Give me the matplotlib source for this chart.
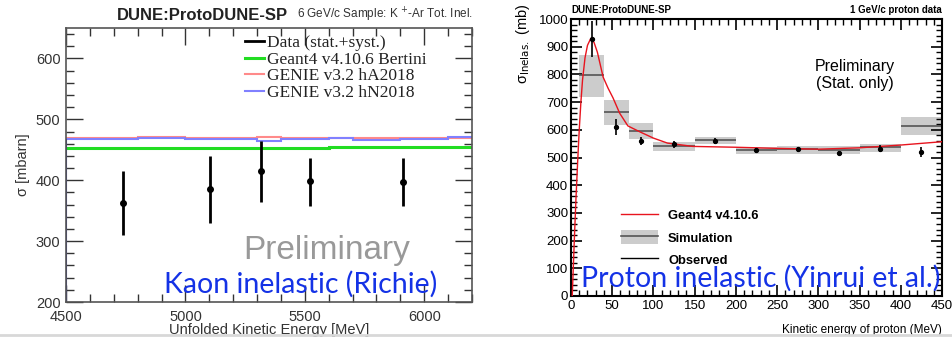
import numpy as np
import matplotlib
matplotlib.use("Agg")
import matplotlib.pyplot as plt
from matplotlib.patches import Patch
from matplotlib.lines import Line2D
from matplotlib.ticker import MultipleLocator

plt.rcParams['font.family'] = ['Liberation Sans', 'DejaVu Sans']

# ---------------- Left panel data (Kaon) ----------------
kaon_e = [4740, 5105, 5315, 5520, 5910]
kaon_xs = [363, 385, 415, 398, 397]
kaon_lo = [310, 330, 365, 358, 358]
kaon_hi = [415, 440, 465, 437, 437]

hist_edges = [4500, 4600, 4700, 4800, 4900, 5000, 5100, 5200, 5300, 5400,
              5500, 5600, 5700, 5800, 5900, 6000, 6100, 6200]
geant_bertini = [452.5, 452.5, 452.5, 452.5, 452.5, 452.5, 452.5, 452.5, 452.5,
                 452.5, 452.5, 454, 454, 454, 454, 454, 454]
genie_ha = [470, 469, 470, 471.5, 471, 470, 470, 470, 471.5, 469, 470, 469,
            470, 469.5, 470, 470, 470]
genie_hn = [467, 467, 468, 470, 469.5, 467, 467, 467, 464, 467, 468, 469,
            466, 466, 467, 467, 471.5]

# ---------------- Right panel data (Proton) ----------------
sim_edges = [10, 40, 70, 100, 150, 200, 250, 300, 350, 400, 450]
sim_val = [798, 664, 596, 542, 563, 527, 531, 527, 538, 614]
sim_lo = [718, 617, 567, 523, 549, 513, 513, 513, 520, 581]
sim_hi = [870, 708, 624, 556, 574, 538, 542, 540, 549, 646]

obs_e = [25, 55, 85, 125, 175, 225, 275, 325, 375, 425]
obs_xs = [928, 610, 560, 547, 560, 526, 530, 516, 532, 520]
obs_err = [66, 29, 15, 12, 11, 9, 9, 8, 12, 17]

g4_e = [1.5, 4, 6, 8, 10, 12, 14, 17, 20, 24, 28, 32, 39, 45, 51, 59, 69,
        84, 100, 117, 148, 200, 250, 300, 350, 400, 450]
g4_xs = [0, 200, 350, 480, 600, 700, 780, 860, 905, 930, 915, 880, 790, 750,
         715, 660, 614, 592, 570, 552, 540, 537, 533, 530, 535, 545, 557]

W, H = 953, 338
fig = plt.figure(figsize=(W / 100, H / 100), dpi=100)
fig.patch.set_facecolor('white')

def ax_rect(l, r, t, b):
    return [l / W, 1 - b / H, (r - l) / W, (b - t) / H]

# ================= Left panel =================
ax1 = fig.add_axes(ax_rect(66, 472, 28, 302))
ax1.set_xlim(4500, 6200)
ax1.set_ylim(200, 650)

ax1.stairs(genie_ha, hist_edges, color='#ff8a8a', lw=1.5, baseline=None)
ax1.stairs(genie_hn, hist_edges, color='#8080ff', lw=1.5, baseline=None)
ax1.stairs(geant_bertini, hist_edges, color='#22dd22', lw=2.2, baseline=None)
ax1.vlines(hist_edges[0], 200, genie_hn[0], color='#3030a0', lw=1.5)

klo = np.array(kaon_xs) - np.array(kaon_lo)
khi = np.array(kaon_hi) - np.array(kaon_xs)
ax1.errorbar(kaon_e, kaon_xs, yerr=[klo, khi], fmt='o', color='black',
             ms=4, lw=2, capsize=0)

ax1.xaxis.set_major_locator(MultipleLocator(500))
ax1.xaxis.set_minor_locator(MultipleLocator(100))
ax1.yaxis.set_major_locator(MultipleLocator(100))
ax1.yaxis.set_minor_locator(MultipleLocator(20))
ax1.tick_params(which='both', direction='in', top=True, right=True,
                labelsize=10.5, colors='#333333', labelcolor='#333333')
ax1.tick_params(which='major', length=12, width=1)
ax1.tick_params(which='minor', length=6, width=1)
ax1.tick_params(axis='x', pad=6)
ax1.tick_params(axis='y', pad=4)
for s in ax1.spines.values():
    s.set_color('#555555')
    s.set_linewidth(1.2)

ax1.set_ylabel('σ [mbarn]', fontsize=10.5, color='#333333', labelpad=4)
ax1.set_xlabel('Unfolded Kinetic Energy [MeV]', fontsize=10.5,
               color='#333333', labelpad=-1)

leg_handles = [Line2D([], [], color='black', lw=2),
               Line2D([], [], color='#22dd22', lw=2.2),
               Line2D([], [], color='#ff8a8a', lw=1.5),
               Line2D([], [], color='#8080ff', lw=1.5)]
leg_labels = ['Data (stat.+syst.)', 'Geant4 v4.10.6 Bertini',
              'GENIE v3.2 hA2018', 'GENIE v3.2 hN2018']
leg1 = ax1.legend(leg_handles, leg_labels, loc='upper left',
                  bbox_to_anchor=((245 - 66) / 406, 1.0 - (35 - 28) / 274),
                  frameon=False, handlelength=1.1, handletextpad=0.15,
                  labelspacing=0.02, borderaxespad=0, borderpad=0,
                  prop={'family': 'Liberation Serif', 'size': 12.5})
for t in leg1.get_texts():
    t.set_color('#222222')

fig.text(117 / W, 1 - 15 / H, 'DUNE:ProtoDUNE-SP', fontsize=12,
         fontweight='bold', color='#222222', va='center', ha='left')
fig.text(297 / W, 1 - 15 / H, '6 GeV/c Sample: K $^{+}$-Ar Tot. Inel.',
         fontsize=8.5, color='#333333', va='center', ha='left')

fig.text(327 / W, 1 - 250 / H, 'Preliminary', fontsize=24, color='#999999',
         ha='center', va='center')
fig.text(301 / W, 1 - 284 / H, 'Kaon inelastic (Richie)', fontsize=20.5,
         family='Lato', color='#1432e6', ha='center', va='center')

# ================= Right panel =================
ax2 = fig.add_axes(ax_rect(571, 942, 19, 296))
ax2.set_xlim(0, 450)
ax2.set_ylim(0, 1000)

widths = np.diff(sim_edges)
ax2.bar(sim_edges[:-1], np.array(sim_hi) - np.array(sim_lo), width=widths,
        bottom=sim_lo, align='edge', color='#cccccc', edgecolor='none',
        zorder=1)
ax2.hlines(sim_val, sim_edges[:-1], sim_edges[1:], color='#555555', lw=1.2,
           zorder=2)
ax2.plot(g4_e, g4_xs, color='#e8141e', lw=1.0, zorder=3)
ax2.errorbar(obs_e, obs_xs, yerr=obs_err, fmt='o', color='black', ms=2.8,
             lw=1.2, capsize=0, zorder=4)

ax2.xaxis.set_major_locator(MultipleLocator(50))
ax2.xaxis.set_minor_locator(MultipleLocator(10))
ax2.yaxis.set_major_locator(MultipleLocator(100))
ax2.yaxis.set_minor_locator(MultipleLocator(20))
ax2.tick_params(which='both', direction='in', top=True, right=True,
                labelsize=9.5, colors='black')
ax2.tick_params(which='major', length=8, width=1.2)
ax2.tick_params(which='minor', length=4, width=1.0)
ax2.tick_params(axis='x', pad=3)
ax2.tick_params(axis='y', pad=2)
for s in ax2.spines.values():
    s.set_linewidth(1.5)

ax2.set_ylabel(r'σ$_{\rm Inelas.}$ (mb)', fontsize=10.5)
ax2.yaxis.set_label_coords(-(571 - 523) / 371, 1 - (44 - 19) / 277)
ax2.yaxis.label.set_va('center')
ax2.set_xlabel('Kinetic energy of proton (MeV)', fontsize=8.5)
ax2.xaxis.set_label_coords(1.0, -(324 - 296) / 277)
ax2.xaxis.label.set_ha('right')

fig.text(571 / W, 1 - 10 / H, 'DUNE:ProtoDUNE-SP', fontsize=7,
         fontweight='bold', ha='left', va='center')
fig.text(942 / W, 1 - 10 / H, '1 GeV/c proton data', fontsize=7,
         fontweight='bold', ha='right', va='center')
fig.text(855 / W, 1 - 75 / H, 'Preliminary\n(Stat. only)', fontsize=11.5,
         ha='center', va='center', linespacing=1.1)

leg_h2 = [Line2D([], [], color='#e8141e', lw=1.0),
          (Patch(facecolor='#cccccc', edgecolor='none'),
           Line2D([], [], color='#555555', lw=1.2)),
          Line2D([], [], color='black', lw=1.0)]
leg_l2 = ['Geant4 v4.10.6', 'Simulation', 'Observed']
leg2 = ax2.legend(leg_h2, leg_l2, loc='upper left',
                  bbox_to_anchor=((621 - 571) / 371, 1 - (208 - 19) / 277),
                  frameon=False, handlelength=2.9, handleheight=1.3,
                  handletextpad=0.75, labelspacing=0.62, borderaxespad=0,
                  borderpad=0, prop={'weight': 'bold', 'size': 9.3})

fig.text(761 / W, 1 - 278 / H, 'Proton inelastic (Yinrui et al.)',
         fontsize=20.5, family='Lato', color='#1432e6', ha='center',
         va='center')

# bottom separator line of the screenshot
fig.add_artist(Line2D([0, 1], [1 - 335 / H, 1 - 335 / H], color='#d8d8d8',
                      lw=2, transform=fig.transFigure))

fig.savefig('out.png', dpi=100)
